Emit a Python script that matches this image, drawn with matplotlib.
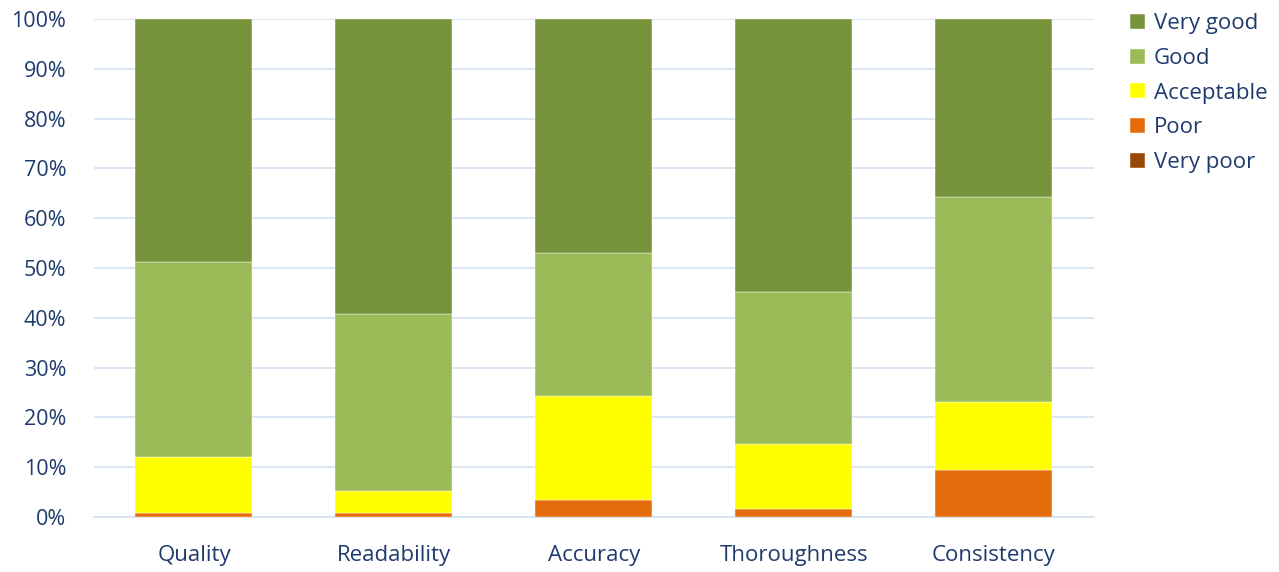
import numpy as np
import matplotlib.pyplot as plt

categories = ['Quality', 'Readability', 'Accuracy', 'Thoroughness', 'Consistency']
very_poor = [0.0, 0.0, 0.0, 0.0, 0.0]
poor = [0.8, 0.8, 3.4, 1.7, 9.4]
acceptable = [11.2, 4.4, 20.9, 13.0, 13.7]
good = [39.2, 35.6, 28.7, 30.5, 41.2]
very_good = [48.8, 59.2, 47.0, 54.8, 35.7]

series = [('Very poor', very_poor, '#984807'),
          ('Poor', poor, '#E46C0A'),
          ('Acceptable', acceptable, '#FFFF00'),
          ('Good', good, '#9BBB59'),
          ('Very good', very_good, '#77933C')]

plt.rcParams['font.family'] = ['Open Sans', 'DejaVu Sans']
text_color = '#1F3B6E'

fig = plt.figure(figsize=(12.79, 5.72), dpi=100)
ax = fig.add_axes([0.0735, 0.0962, 0.7815, 0.8706])

x = np.arange(len(categories))
bottom = np.zeros(len(categories))
handles = []
for name, vals, col in series:
    vals = np.array(vals)
    b = ax.bar(x, vals, width=0.585, bottom=bottom, color=col, label=name,
               zorder=3, edgecolor='white', linewidth=0.3)
    handles.append(b)
    bottom += vals

ax.set_xlim(-0.5, len(categories) - 0.5)
ax.set_ylim(0, 100)
ax.set_yticks(np.arange(0, 101, 10))
ax.set_yticklabels([f'{v}%' for v in range(0, 101, 10)])
ax.set_xticks(x)
ax.set_xticklabels(categories)
ax.grid(axis='y', color='#D6E0F0', linewidth=1.2, zorder=0)
for s in ['top', 'right', 'left']:
    ax.spines[s].set_visible(False)
ax.spines['bottom'].set_color('#D6E0F0')
ax.spines['bottom'].set_linewidth(1.2)
ax.tick_params(axis='both', length=0, labelsize=15.5, labelcolor=text_color)
ax.tick_params(axis='y', pad=20)
ax.tick_params(axis='x', labelsize=16, pad=20)

fig.legend(handles[::-1], [s[0] for s in series][::-1], loc='upper left',
           bbox_to_anchor=(0.868, 1.012), frameon=False, fontsize=16,
           labelcolor=text_color, handlelength=0.65, handleheight=0.65,
           handletextpad=0.4, labelspacing=0.62)

plt.savefig('out.png', dpi=100)
